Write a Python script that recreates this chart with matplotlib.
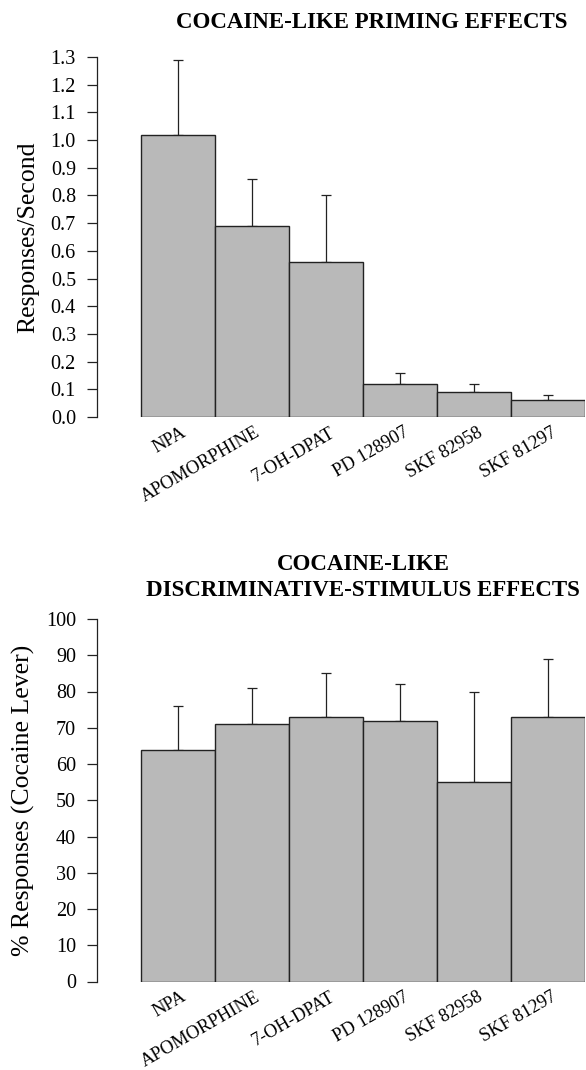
import numpy as np
import matplotlib.pyplot as plt
import matplotlib.transforms as mtransforms

drugs = ['NPA', 'APOMORPHINE', '7-OH-DPAT', 'PD 128907', 'SKF 82958', 'SKF 81297']

# priming effects (responses/second), mean and upper error
priming_mean = [1.02, 0.69, 0.56, 0.12, 0.09, 0.06]
priming_err = [0.27, 0.17, 0.24, 0.04, 0.03, 0.02]

# discriminative-stimulus effects (% cocaine lever)
discrim_mean = [64, 71, 73, 72, 55, 73]
discrim_err = [12, 10, 12, 10, 25, 16]

plt.rcParams['font.family'] = ['Liberation Serif', 'DejaVu Serif']

fig = plt.figure(figsize=(5.86, 10.70), dpi=100)
W, H = 586, 1070

bar_color = '#b9b9b9'


def panel(rect, mean, err, ylim, yticks, yfmt, ylabel):
    ax = fig.add_axes(rect)
    x = np.arange(len(mean))
    ax.bar(x, mean, width=1.0, color=bar_color, edgecolor='#222222', linewidth=1.0, zorder=2)
    ax.errorbar(x, mean, yerr=[np.zeros(len(err)), err], fmt='none', ecolor='#222222',
                elinewidth=0.9, capsize=3.5, capthick=0.9, zorder=1)
    ax.set_xlim(-1.095, 5.5)
    ax.set_ylim(*ylim)
    ax.set_yticks(yticks)
    ax.set_yticklabels([yfmt.format(v) for v in yticks], fontsize=14.5)
    ax.tick_params(axis='y', length=7.2, width=0.9, pad=8, color='#222222')
    ax.set_xticks(x)
    ax.set_xticklabels(drugs, rotation=30, ha='right', va='top', rotation_mode='anchor', fontsize=13.3)
    ax.tick_params(axis='x', length=0, pad=5)
    # nudge the rotated labels a little to the right, like the original
    shift = mtransforms.ScaledTranslation(3 / 100, 0, fig.dpi_scale_trans)
    for lab in ax.get_xticklabels():
        lab.set_transform(lab.get_transform() + shift)
    for s in ['top', 'right', 'bottom']:
        ax.spines[s].set_visible(False)
    ax.spines['left'].set_linewidth(0.9)
    ax.spines['left'].set_color('#222222')
    ax.set_ylabel(ylabel, fontsize=18.5, labelpad=8)
    return ax


ax1 = panel([97 / W, (H - 417) / H, 488 / W, 360 / H], priming_mean, priming_err,
            (0, 1.3), np.round(np.arange(0, 1.31, 0.1), 1), '{:.1f}', 'Responses/Second')
fig.text(372 / W, 1 - 23 / H, 'COCAINE-LIKE PRIMING EFFECTS', ha='center', va='center',
         fontsize=16.5, fontweight='bold')

ax2 = panel([97 / W, (H - 981.5) / H, 488 / W, 362.5 / H], discrim_mean, discrim_err,
            (0, 100), np.arange(0, 101, 10), '{:d}', '% Responses (Cocaine Lever)')
fig.text(363 / W, 1 - 565 / H, 'COCAINE-LIKE', ha='center', va='center',
         fontsize=16.5, fontweight='bold')
fig.text(363 / W, 1 - 591 / H, 'DISCRIMINATIVE-STIMULUS EFFECTS', ha='center', va='center',
         fontsize=16.5, fontweight='bold')

fig.savefig('out.png', dpi=100)
